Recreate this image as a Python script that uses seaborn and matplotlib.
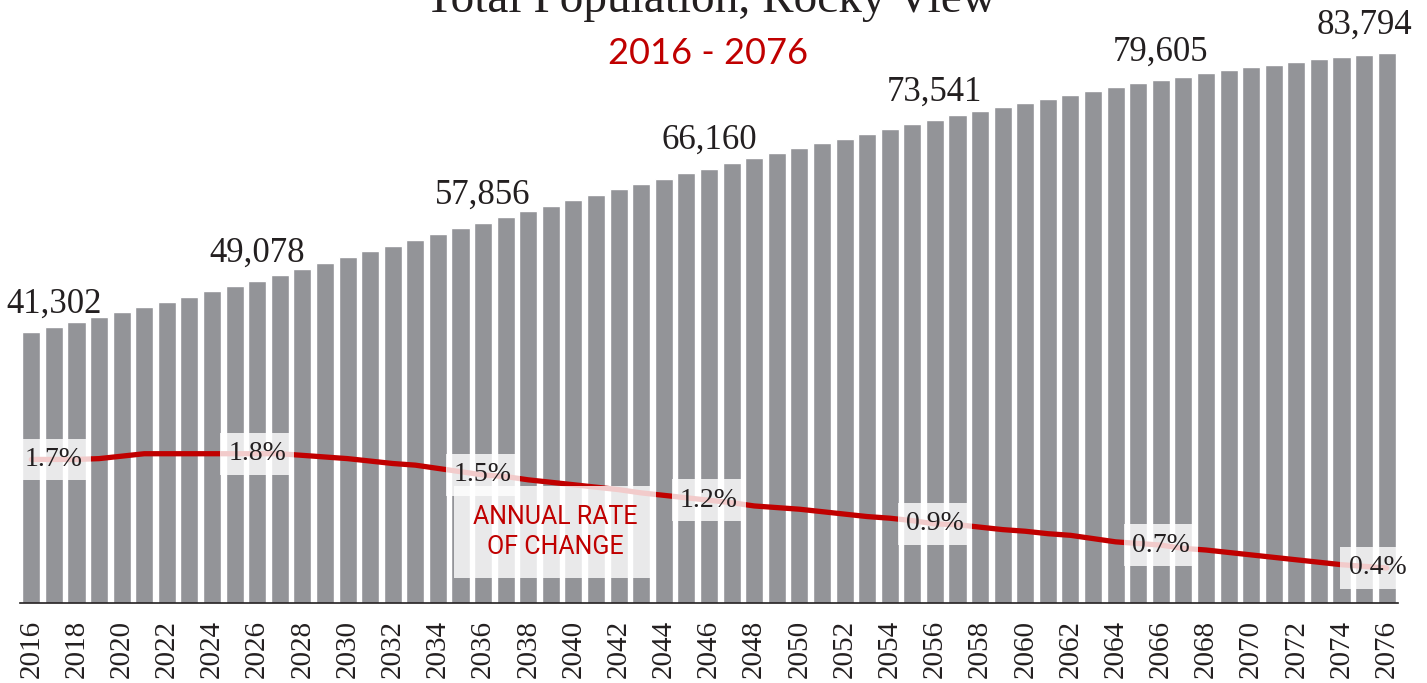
import numpy as np
import pandas as pd
import matplotlib
matplotlib.use('Agg')
import matplotlib.pyplot as plt
import seaborn as sns

# ============================================================================
# DATA
# ============================================================================
years = list(range(2016, 2077))

population = [
    41302, 42100, 42816, 43531, 44292, 45099, 45860, 46667, 47489, 48341,
    49078, 50015, 50928, 51796, 52664, 53577, 54429, 55342, 56210, 57078,
    57856, 58798, 59665, 60518, 61385, 62192, 63059, 63866, 64627, 65449,
    66160, 67017, 67778, 68539, 69300, 70015, 70715, 71476, 72192, 72907,
    73541, 74277, 74931, 75540, 76195, 76804, 77412, 77976, 78584, 79148,
    79605, 80152, 80670, 81172, 81583, 81979, 82390, 82801, 83196, 83501,
    83794,
]

# annual rate of change, percent
growth_rate = [
    1.73, 1.73, 1.73, 1.74, 1.77, 1.80, 1.80, 1.80, 1.80, 1.80,
    1.80, 1.80, 1.78, 1.76, 1.74, 1.71, 1.68, 1.66, 1.62, 1.58,
    1.54, 1.52, 1.48, 1.45, 1.42, 1.39, 1.36, 1.32, 1.29, 1.26,
    1.23, 1.20, 1.16, 1.14, 1.12, 1.09, 1.06, 1.03, 1.01, 0.98,
    0.94, 0.93, 0.90, 0.87, 0.85, 0.82, 0.80, 0.76, 0.72, 0.70,
    0.68, 0.64, 0.62, 0.59, 0.56, 0.53, 0.50, 0.47, 0.44, 0.42,
    0.40,
]

label_years = [2016, 2026, 2036, 2046, 2056, 2066, 2076]

TITLE = 'Total Population, Rocky View'
SUBTITLE = '2016 - 2076'
RATE_NOTE = 'ANNUAL RATE\nOF CHANGE'

# ============================================================================
# STYLE
# ============================================================================
BAR_GREY = '#939498'
RED = '#c00000'
INK = '#231f20'
SERIF = ['Liberation Serif', 'DejaVu Serif']

W_PX, H_PX, DPI = 1427, 683, 100
BASE_PX = 603.3          # baseline row in pixels from top
POP_PER_PX = 1 / 0.00657
RATE_PX = 81.6           # pixels per 1 %
RATE_ZERO_PX = 600.6

sns.set_style('white')
plt.rcParams['font.family'] = SERIF

df = pd.DataFrame({'year': years, 'population': population, 'rate': growth_rate})
df['pos'] = np.arange(len(df))
df['year_str'] = df['year'].astype(str)

fig = plt.figure(figsize=(W_PX / DPI, H_PX / DPI), dpi=DPI)
ax = fig.add_axes([20 / W_PX, (H_PX - BASE_PX) / H_PX, 1378 / W_PX, BASE_PX / H_PX])

sns.barplot(data=df, x='year_str', y='population', order=list(df['year_str']),
            color=BAR_GREY, saturation=1, width=0.8, ax=ax)

ax2 = ax.twinx()
sns.lineplot(data=df, x='pos', y='rate', color=RED, linewidth=3.8, ax=ax2)

n = len(df)
ax.set_xlim(-0.5, n - 0.5)
ax2.set_xlim(-0.5, n - 0.5)
ax.set_ylim(0, BASE_PX * POP_PER_PX)
lo = -(BASE_PX - RATE_ZERO_PX) / RATE_PX
ax2.set_ylim(lo, lo + BASE_PX / RATE_PX)

# axes cosmetics
for a in (ax, ax2):
    for s in ('left', 'right', 'top'):
        a.spines[s].set_visible(False)
    a.set_ylabel('')
    a.set_xlabel('')
    a.set_yticks([])
ax2.spines['bottom'].set_visible(False)
ax.spines['bottom'].set_color(INK)
ax.spines['bottom'].set_linewidth(1.2)

ax.set_xticks(df['pos'])
ax.set_xticklabels([y if i % 2 == 0 else '' for i, y in enumerate(df['year_str'])],
                   rotation=90, fontsize=21, color=INK, family=SERIF)
ax.tick_params(axis='x', which='major', length=0, pad=12)
ax.set_xticks(np.arange(-0.5, n, 1), minor=True)
ax.tick_params(axis='x', which='minor', length=6, width=1, color=INK, direction='out')
ax2.tick_params(axis='x', which='both', length=0, labelbottom=False)

# labels every ten years
shift = {label_years[0]: 1.0, label_years[-1]: -1.0}
rate_shift = {label_years[0]: 1.0, label_years[-1]: -0.4}
for yr in label_years:
    row = df[df['year'] == yr].iloc[0]
    ax.annotate(f"{int(row['population']):,}", xy=(row['pos'] + shift.get(yr, 0), row['population']),
                xytext=(0, 14), textcoords='offset points', ha='center', va='baseline',
                fontsize=25, color=INK, family=SERIF)
    ax2.text(row['pos'] + rate_shift.get(yr, 0), row['rate'], f"{row['rate']:.1f}%",
             ha='center', va='center', fontsize=20, color=INK, family=SERIF, zorder=5,
             bbox=dict(boxstyle='square,pad=0.3', facecolor='white', edgecolor='none', alpha=0.8))

ax2.text(23.2, (RATE_ZERO_PX - 532) / RATE_PX, RATE_NOTE, ha='center', va='center',
         fontsize=18, color=RED, family=['Roboto', 'DejaVu Sans'], linespacing=1.3, zorder=4,
         bbox=dict(boxstyle='square,pad=0.75', facecolor='white', edgecolor='none', alpha=0.8))

fig.text(0.498, 1 - 12 / H_PX, TITLE, ha='center', va='baseline', fontsize=34,
         color=INK, family=SERIF)
fig.text(0.496, 1 - 64 / H_PX, SUBTITLE, ha='center', va='baseline', fontsize=26,
         color=RED, family=['Lato', 'DejaVu Sans'])

fig.savefig('out.png', dpi=DPI)
plt.close(fig)
